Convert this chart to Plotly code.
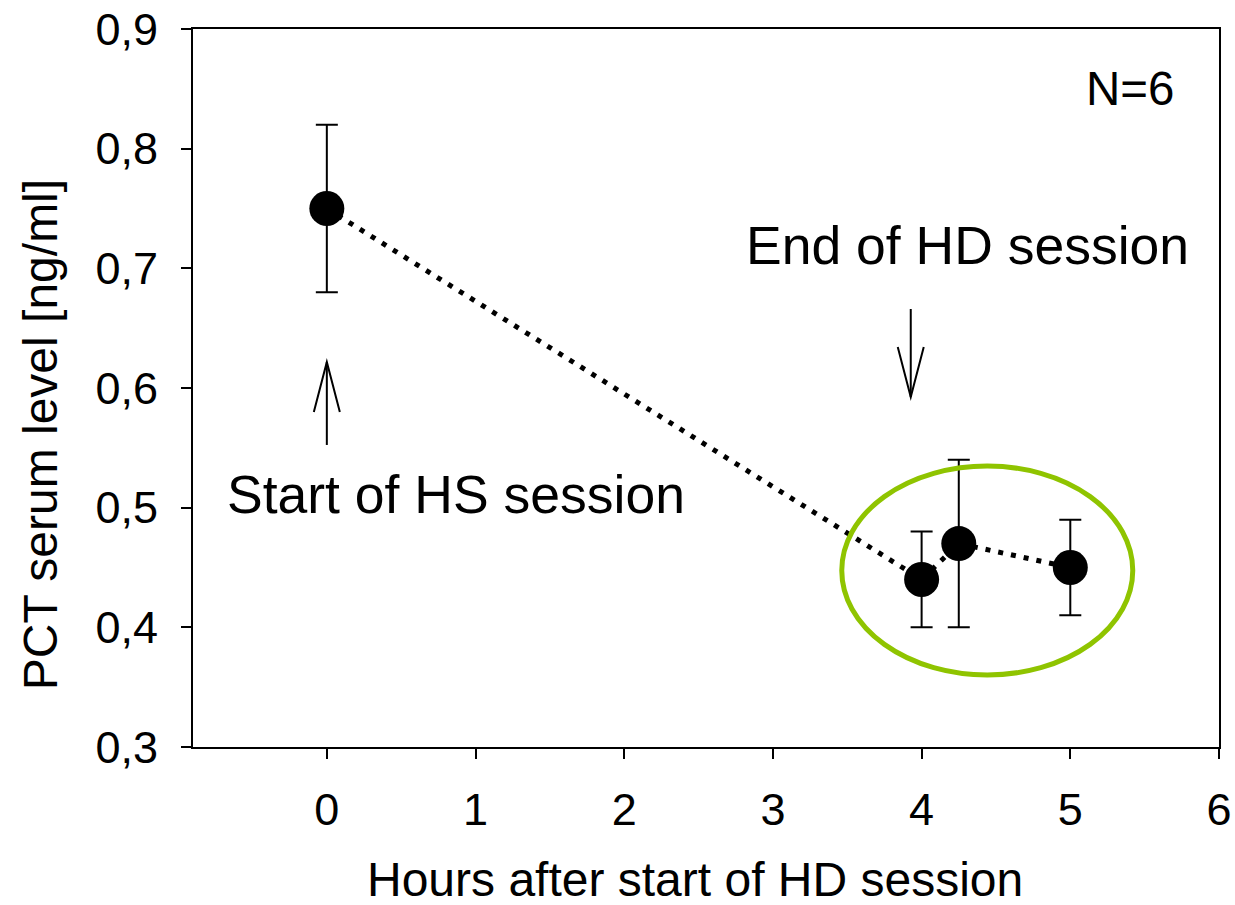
import plotly.graph_objects as go

# ---- data ----
hours = [0, 4, 4.25, 5]
pct = [0.75, 0.44, 0.47, 0.45]
pct_err = [0.07, 0.04, 0.07, 0.04]

x_tickvals = [0, 1, 2, 3, 4, 5, 6]
x_ticktext = ["0", "1", "2", "3", "4", "5", "6"]
y_tickvals = [0.3, 0.4, 0.5, 0.6, 0.7, 0.8, 0.9]
y_ticktext = ["0,3", "0,4", "0,5", "0,6", "0,7", "0,8", "0,9"]

x_title = "Hours after start of HD session"
y_title = "PCT serum level [ng/ml]"

# annotation anchors (data units)
start_arrow = {"x": 0, "y_tail": 0.5524, "y_tip": 0.6217}
end_arrow = {"x": 3.927, "y_tail": 0.666, "y_tip": 0.5925}
ellipse = {"x0": 3.463, "x1": 5.42, "y0": 0.3602, "y1": 0.5348}
labels = [
    {"text": "Start of HS session", "x": 0.868, "y": 0.5114, "size": 53.5},
    {"text": "End of HD session", "x": 4.308, "y": 0.7187, "size": 53.5},
    {"text": "N=6", "x": 5.40, "y": 0.850, "size": 47.5},
]

FONT = "Liberation Sans, Arial, sans-serif"

fig = go.Figure()

fig.add_trace(go.Scatter(
    x=hours, y=pct,
    mode="lines+markers",
    line=dict(color="black", width=5, dash="5px,8px"),
    marker=dict(color="black", size=35),
    error_y=dict(type="data", array=pct_err, visible=True,
                 color="black", thickness=2, width=11),
    showlegend=False,
))

shapes = []
# ellipse
shapes.append(dict(type="circle", xref="x", yref="y",
                   x0=ellipse["x0"], x1=ellipse["x1"],
                   y0=ellipse["y0"], y1=ellipse["y1"],
                   line=dict(color="#8fc400", width=5), layer="above"))
# arrows: shaft + open V head
for arr in (start_arrow, end_arrow):
    shapes.append(dict(type="line", xref="x", yref="y",
                       x0=arr["x"], x1=arr["x"], y0=arr["y_tail"], y1=arr["y_tip"],
                       line=dict(color="black", width=2)))
    sign = -1 if arr["y_tip"] > arr["y_tail"] else 1
    shapes.append(dict(type="path", xref="x", yref="y",
                       xsizemode="pixel", ysizemode="pixel",
                       xanchor=arr["x"], yanchor=arr["y_tip"],
                       path=f"M-13,{sign*50} L0,0 L13,{sign*50}",
                       line=dict(color="black", width=2)))

annotations = []
for lab in labels:
    annotations.append(dict(x=lab["x"], y=lab["y"], xref="x", yref="y",
                            text=lab["text"], showarrow=False,
                            xanchor="center", yanchor="middle",
                            font=dict(family=FONT, size=lab["size"], color="black")))
# axis titles
annotations.append(dict(x=0.489, y=-0.185, xref="paper", yref="paper",
                        text=x_title, showarrow=False,
                        xanchor="center", yanchor="middle",
                        font=dict(family=FONT, size=48, color="black")))
annotations.append(dict(x=-0.149, y=0.4345, xref="paper", yref="paper",
                        text=y_title, showarrow=False, textangle=-90,
                        xanchor="center", yanchor="middle",
                        font=dict(family=FONT, size=48, color="black")))

axis_common = dict(showline=True, linecolor="black", linewidth=2, mirror=True,
                   ticks="outside", ticklen=10, tickwidth=2, tickcolor="black",
                   showgrid=False, zeroline=False, automargin=False,
                   tickfont=dict(family=FONT, size=45, color="black"))

fig.update_layout(
    width=1235, height=905,
    margin=dict(l=193, r=16, t=29, b=158),
    paper_bgcolor="white", plot_bgcolor="white",
    shapes=shapes, annotations=annotations,
    xaxis=dict(range=[-0.9, 6], tickvals=x_tickvals, ticktext=x_ticktext,
               ticklabelstandoff=12, **axis_common),
    yaxis=dict(range=[0.3, 0.9], tickvals=y_tickvals, ticktext=y_ticktext,
               ticklabelstandoff=14, **axis_common),
)

fig.write_html("out.html")
